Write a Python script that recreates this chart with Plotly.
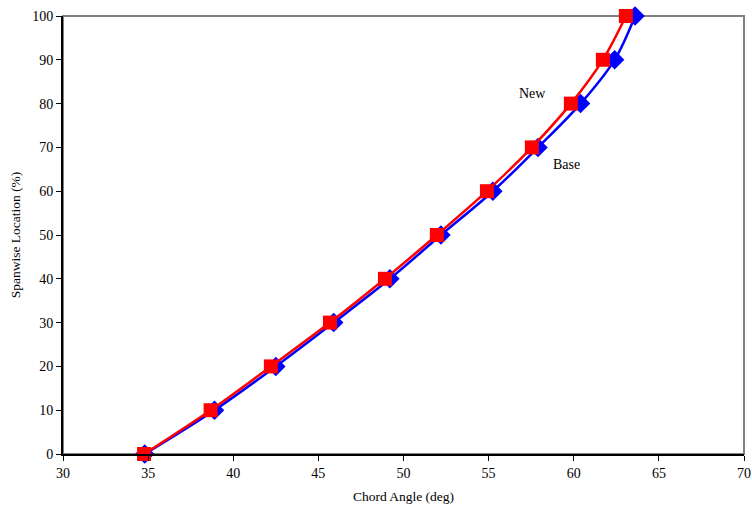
import plotly.graph_objects as go

span = [0, 10, 20, 30, 40, 50, 60, 70, 80, 90, 100]
base_angle = [34.8, 38.9, 42.5, 45.9, 49.2, 52.2, 55.25, 57.9, 60.4, 62.4, 63.6]
new_angle = [34.76, 38.67, 42.21, 45.68, 48.91, 51.96, 54.9, 57.54, 59.83, 61.71, 63.06]
x_ticks = [30, 35, 40, 45, 50, 55, 60, 65, 70]
y_ticks = [0, 10, 20, 30, 40, 50, 60, 70, 80, 90, 100]

font = "Liberation Serif"

fig = go.Figure()
fig.add_trace(go.Scatter(
    x=base_angle, y=span, mode="lines+markers", name="Base",
    line=dict(color="#0000FF", width=2.5, shape="spline"),
    marker=dict(symbol="diamond", size=15, color="#0000FF"),
    cliponaxis=False,
))
fig.add_trace(go.Scatter(
    x=new_angle, y=span, mode="lines+markers", name="New",
    line=dict(color="#FF0000", width=2.5, shape="spline"),
    marker=dict(symbol="square", size=14, color="#FF0000"),
    cliponaxis=False,
))

fig.add_annotation(x=57.6, y=82.4, text="New", showarrow=False,
                   font=dict(family=font, size=14, color="black"))
fig.add_annotation(x=59.6, y=66.0, text="Base", showarrow=False,
                   font=dict(family=font, size=14, color="black"))

fig.add_shape(type="rect", xref="paper", yref="paper", x0=0, y0=0, x1=1, y1=1,
              line=dict(color="#808080", width=2), layer="below")

fig.update_layout(
    width=752, height=510,
    margin=dict(l=63, r=8, t=16, b=56),
    paper_bgcolor="white", plot_bgcolor="rgba(0,0,0,0)",
    showlegend=False,
    font=dict(family=font, size=14, color="black"),
)
fig.update_xaxes(
    range=[30, 70], tickvals=x_ticks, showgrid=False, zeroline=False,
    showline=True, linecolor="black", linewidth=2, automargin=False,
    ticks="outside", ticklen=5, tickcolor="black", tickwidth=1,
    title=dict(text="Chord Angle (deg)", font=dict(family=font, size=13.5), standoff=12),
    tickfont=dict(family=font, size=14),
)
fig.update_yaxes(
    range=[0, 100], tickvals=y_ticks, showgrid=False, zeroline=False,
    showline=True, linecolor="black", linewidth=2, automargin=False,
    ticks="outside", ticklen=5, tickcolor="black", tickwidth=1,
    title=dict(text="Spanwise Location (%)", font=dict(family=font, size=13.5), standoff=8),
    tickfont=dict(family=font, size=14),
)

fig.write_html(
    "out.html",
    config={"displayModeBar": False},
    post_script="document.body.style.margin='0';document.body.style.overflow='hidden';",
)
